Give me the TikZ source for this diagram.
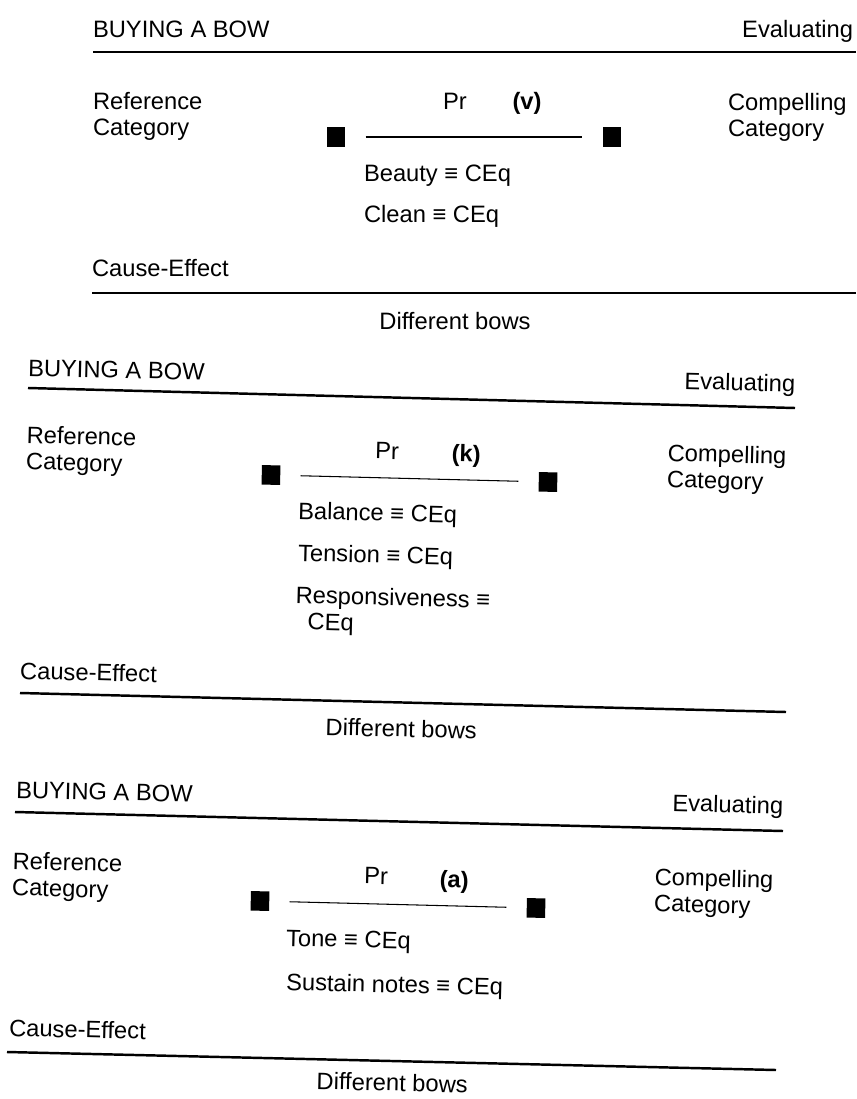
\documentclass[tikz,border=0pt]{standalone}
\usepackage{fontspec}
\setmainfont{Liberation Sans}
\usetikzlibrary{calc}

\begin{document}
\begin{tikzpicture}[x=0.02cm,y=-0.02cm,
		txt/.style={font=\fontsize{13.5}{15}\selectfont, inner sep=0pt, outer sep=0pt},
		lbl/.style={txt, anchor=base west},
		two/.style={txt, anchor=north west, align=left},
		sq/.style={fill, inner sep=0pt, minimum width=0.37cm, minimum height=0.39cm},
		rule/.style={line width=1.4pt},
		frac/.style={line width=0.6pt, shorten <=0.4cm, shorten >=0.4cm}]
		\useasboundingbox (0,0) rectangle (856,1099);
		% first sheet
		\node[lbl] (buy1) at (93,37) {BUYING A BOW};
		\node[txt, anchor=base east] (eval1) at (853,37) {Evaluating};
		\draw[rule] (93,52) -- (856,52);
		\node[two] (ref1) at (93,92) {Reference\\Category};
		\node[txt, anchor=base] (pr1) at (455,109) {Pr};
		\node[txt, anchor=base] (v1) at (527,109) {\bfseries (v)};
		\node[sq] (lsq1) at (336,137) {};
		\node[sq] (rsq1) at (612,137) {};
		\draw[frac] (lsq1) -- (rsq1);
		\node[two] (comp1) at (728,93) {Compelling\\Category};
		\node[lbl] (beauty1) at (364,181) {Beauty ≡ CEq};
		\node[lbl] (clean1) at (364,222) {Clean ≡ CEq};
		\node[lbl] (cause1) at (92,276) {Cause-Effect};
		\draw[rule] (92,293) -- (856,293);
		\node[txt, anchor=base] (diff1) at (455,329) {Different bows};
		% second sheet
		\begin{scope}[every node/.append style={rotate=-1.4}]
			\node[lbl] (buy2) at (28,376) {BUYING A BOW};
			\node[txt, anchor=base east] (eval2) at (795,392) {Evaluating};
			\draw[rule] (28,388) -- (795,408);
			\node[two] (ref2) at (27,426) {Reference\\Category};
			\node[txt, anchor=base] (pr2) at (387,459) {Pr};
			\node[txt, anchor=base] (k2) at (466,462) {\bfseries (k)};
			\node[sq] (lsq2) at (271,475) {};
			\node[sq] (rsq2) at (548,482) {};
			\draw[frac] (lsq2) -- (rsq2);
			\node[two] (comp2) at (668,444) {Compelling\\Category};
			\node[lbl] (bal2) at (298,519) {Balance ≡ CEq};
			\node[lbl] (ten2) at (298,561) {Tension ≡ CEq};
			\node[two] (resp2) at (296,586) {Responsiveness ≡\\\hspace{0.25cm}CEq};
			\node[lbl] (cause2) at (20,679) {Cause-Effect};
			\draw[rule] (20,693) -- (786,712);
			\node[txt, anchor=base] (diff2) at (401,737) {Different bows};
		\end{scope}
		% third sheet
		\begin{scope}[every node/.append style={rotate=-1.4}]
			\node[lbl] (buy3) at (16,798) {BUYING A BOW};
			\node[txt, anchor=base east] (eval3) at (783,814) {Evaluating};
			\draw[rule] (15,812) -- (783,831);
			\node[two] (ref3) at (13,852) {Reference\\Category};
			\node[txt, anchor=base] (pr3) at (376,884) {Pr};
			\node[txt, anchor=base] (a3) at (454,888) {\bfseries (a)};
			\node[sq] (lsq3) at (260,901) {};
			\node[sq] (rsq3) at (536,908) {};
			\draw[frac] (lsq3) -- (rsq3);
			\node[two] (comp3) at (655,868) {Compelling\\Category};
			\node[lbl] (tone3) at (286,946) {Tone ≡ CEq};
			\node[lbl] (sus3) at (286,990) {Sustain notes ≡ CEq};
			\node[lbl] (cause3) at (9,1036) {Cause-Effect};
			\draw[rule] (7,1052) -- (776,1070);
			\node[txt, anchor=base] (diff3) at (392,1091) {Different bows};
		\end{scope}
	\end{tikzpicture}
\end{document}
